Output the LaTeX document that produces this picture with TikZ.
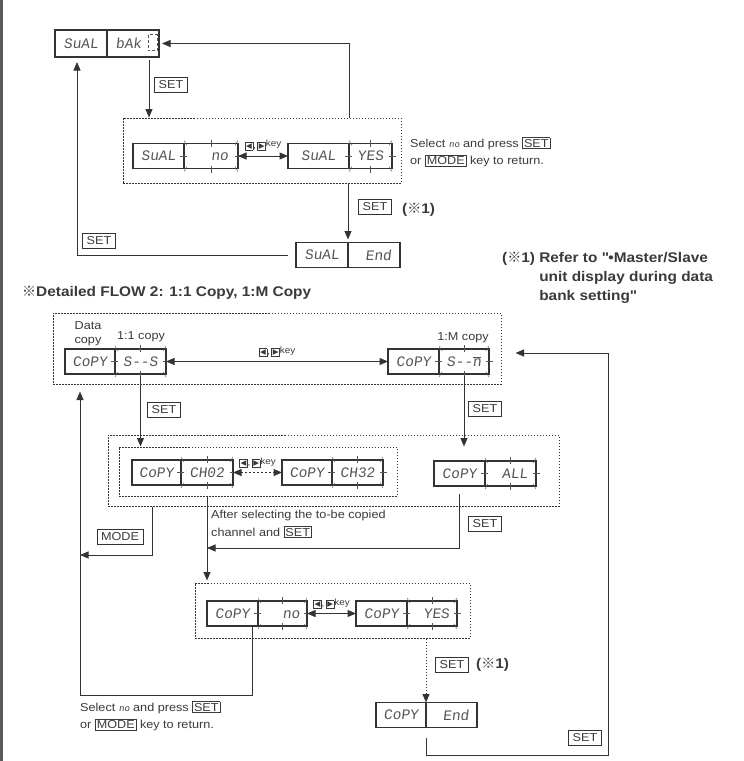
\documentclass[tikz,border=0pt]{standalone}
\usepackage{fontspec}
\setmainfont{Liberation Sans}[FakeStretch=1.1]
\newfontfamily\segfont{Liberation Mono}[FakeSlant=0.12]
\newfontfamily\symfont{DejaVu Sans}
\newfontfamily\cjkfont{Noto Sans CJK JP}
\usetikzlibrary{arrows.meta,positioning,calc,fit}
\definecolor{lcdline}{HTML}{333333}
\definecolor{segtext}{HTML}{555555}
\definecolor{txtgray}{HTML}{3A3A3A}
\definecolor{barcol}{HTML}{5A5A5A}
\newcommand{\refmark}{{\cjkfont ※}}
\newcommand{\kbox}[1]{{\fboxsep=1.2pt\fboxrule=0.6pt\fbox{#1}}}
\newcommand{\segno}{{\segfont\fontsize{9}{9}\selectfont no}}
\newcommand{\arrkeys}{{\fboxsep=0.8pt\fboxrule=0.6pt\fbox{\symfont\fontsize{7.5}{7.5}\selectfont ◀},\,\fbox{\symfont\fontsize{7.5}{7.5}\selectfont ▶}\raisebox{1.5pt}{key}}}
\newcommand{\blink}[1]{%
  \draw[tick] ([yshift=4pt]#1.north) -- ([yshift=-3pt]#1.north);
  \draw[tick] ([yshift=3pt]#1.south) -- ([yshift=-4pt]#1.south);
  \draw[tick] ([xshift=-4pt]#1.west) -- ([xshift=3pt]#1.west);
  \draw[tick] ([xshift=-3pt]#1.east) -- ([xshift=4pt]#1.east);
  \draw[tick] ([yshift=3pt]#1.north west) -- ([xshift=3pt,yshift=-2pt]#1.north west);
  \draw[tick] ([yshift=3pt]#1.north east) -- ([xshift=-3pt,yshift=-2pt]#1.north east);
  \draw[tick] ([yshift=-3pt]#1.south west) -- ([xshift=3pt,yshift=2pt]#1.south west);
  \draw[tick] ([yshift=-3pt]#1.south east) -- ([xshift=-3pt,yshift=2pt]#1.south east);
}

\begin{document}
\begin{tikzpicture}[
    x=1pt,y=-1pt,
    lcd/.style={draw=lcdline,line width=1.2pt,outer sep=0pt,inner sep=0pt,minimum width=51pt,minimum height=25pt,font=\segfont\fontsize{14.5}{14.5}\selectfont,text=segtext},
    grp/.style={draw=lcdline,dash pattern=on 1.5pt off 1.5pt,line width=1pt,inner sep=0pt},
    keybox/.style={draw=lcdline,line width=0.7pt,inner xsep=4pt,inner ysep=3.5pt,font=\fontsize{11.5}{12}\selectfont,text=txtgray},
    note/.style={align=left,anchor=north west,inner sep=0pt,font=\fontsize{11.5}{17.5}\selectfont,text=txtgray},
    lbl/.style={align=center,inner sep=0pt,font=\fontsize{11.5}{14}\selectfont,text=txtgray},
    head/.style={inner sep=0pt,font=\bfseries\fontsize{14}{19}\selectfont,text=txtgray},
    keylbl/.style={inner sep=0pt,font=\fontsize{9}{9}\selectfont,text=txtgray},
    arr/.style={-{Triangle[length=8.5pt,width=7pt]},line width=1pt,draw=lcdline},
    darr/.style={{Triangle[length=8.5pt,width=7pt]}-{Triangle[length=8.5pt,width=7pt]},line width=1pt,draw=lcdline},
    tick/.style={draw=segtext,line width=0.5pt}
  ]
    \useasboundingbox (0,0) rectangle (744,761);
    \fill[barcol] (0,0) rectangle (3,761);

    % bank save flow
    \node[lcd,minimum width=52pt,minimum height=27pt] (sval1) at (81,43.5) {SuAL};
    \node[lcd,minimum width=52pt,minimum height=27pt,right=0pt of sval1] (bak1) {bAk\phantom{0}};
    \draw[densely dashed,segtext,line width=0.6pt] ([xshift=-11pt,yshift=9pt]bak1.east) rectangle ([xshift=-2pt,yshift=-7pt]bak1.east);
    \node[lcd] (sval2) at (158.5,156) {SuAL};
    \node[lcd,minimum width=54pt,right=0pt of sval2] (no2) {\phantom{00}no};
    \node[lcd,minimum width=61pt] (sval3) at (318.5,156) {SuAL};
    \node[lcd,minimum width=43pt,right=0pt of sval3] (yes3) {YES};
    \node[lcd,minimum width=52pt] (sval4) at (322,255) {SuAL};
    \node[lcd,minimum width=52pt,right=0pt of sval4] (end4) {\phantom{0}End};
    \node[grp,fit={(123,118) (401,183)}] (g1) {};
    \blink{no2}
    \blink{yes3}

    \draw[darr] (no2.east) -- node[keylbl,above=5pt]{\arrkeys} (sval3.west);
    \draw[arr,shorten >=3pt] (g1.north -| yes3.west) |- (bak1.east);
    \draw[arr] ([xshift=16pt,yshift=-3pt]bak1.south) -- ([xshift=16pt]bak1.south |- g1.north);
    \node[keybox] (set1) at (171,84.5) {SET};
    \draw[arr,shorten >=3pt] (end4.north west |- g1.south) -- (end4.north west);
    \node[keybox] (set2) at (375,206.5) {SET};
    \node[head,anchor=west] (ref1) at (402,210) {(\refmark1)};
    \draw[arr,shorten >=5pt] ([xshift=-8pt]sval4.west) -| ([xshift=-4pt]sval1.south);
    \node[keybox] (set3) at (99,241) {SET};
    \node[note] (sel1) at (410,137) {Select \segno{} and press \kbox{SET}\\or \kbox{MODE} key to return.};

    \node[head,anchor=north west,align=left] (foot) at (502,249) {(\refmark1) \begin{tabular}[t]{@{}l@{}}Refer to \textquotedbl•Master/Slave\\unit display during data\\bank setting\textquotedbl\end{tabular}};
    \node[head,anchor=west] (title) at (22,293) {\refmark Detailed FLOW 2: 1:1 Copy, 1:M Copy};

    % copy flow
    \node[lcd,minimum width=50pt] (copy1) at (90,361.5) {CoPY};
    \node[lcd,right=0pt of copy1] (ss) {S--S};
    \node[lcd] (copy2) at (413.5,361.5) {CoPY};
    \node[lcd,minimum width=50pt,right=0pt of copy2] (sm) {S--\makebox[0pt][l]{\raisebox{9pt}{\rule{8pt}{0.7pt}}}n};
    \node[grp,fit={(53,313) (501,384)}] (g2) {};
    \node[lbl] (datacopy) at (88,334) {Data\\copy};
    \node[lbl] (lab11) at (141,337) {1:1 copy};
    \node[lbl] (lab1m) at (463,338) {1:M copy};
    \blink{ss}
    \blink{sm}
    \draw[darr] (ss.east) -- node[keylbl,above=4pt]{\arrkeys} (copy2.west);

    \node[lcd,minimum width=49pt] (copy3) at (156.5,472.5) {CoPY};
    \node[lcd,minimum width=52pt,right=0pt of copy3] (ch02) {CH02};
    \node[lcd,minimum width=50pt] (copy4) at (307,472.5) {CoPY};
    \node[lcd,right=0pt of copy4] (ch32) {CH32};
    \node[lcd] (copy5) at (459.5,473.5) {CoPY};
    \node[lcd,right=0pt of copy5] (all5) {\phantom{0}ALL};
    \node[grp,fit={(119,447) (397,496)}] (g4) {};
    \node[grp,fit={(108,435) (559,506)}] (g3) {};
    \blink{ch02}
    \blink{ch32}
    \blink{all5}
    \draw[darr,dash pattern=on 2pt off 2pt] (ch02.east) -- node[keylbl,above=4pt]{\arrkeys} (copy4.west);

    \draw[arr] ([yshift=-2pt]ss.south) -- (ss.south |- g4.north);
    \node[keybox] (set4) at (164,410) {SET};
    \draw[arr] ([yshift=-2pt]sm.south) -- (sm.south |- g4.north);
    \node[keybox] (set5) at (485,409) {SET};

    \node[lcd] (copy6) at (232.5,613.5) {CoPY};
    \node[lcd,minimum width=49pt,right=0pt of copy6] (cno) {\phantom{00}no};
    \node[lcd] (copy7) at (381.5,613.5) {CoPY};
    \node[lcd,minimum width=50pt,right=0pt of copy7] (cyes) {\phantom{0}YES};
    \node[grp,fit={(195,583) (470,638)}] (g5) {};
    \blink{cno}
    \blink{cyes}
    \draw[darr] (cno.east) -- node[keylbl,above=4pt]{\arrkeys} (copy7.west);

    \node[lcd,minimum width=50pt] (copy8) at (401,715) {CoPY};
    \node[lcd,right=0pt of copy8] (cend) {\phantom{0}End};

    \coordinate (join) at ([yshift=-63pt]ch02.south);
    \coordinate (modeend) at (80,555);
    \coordinate (loopc) at (608,755);

    \draw[arr,shorten >=2pt] (ch02.south |- g4.south) -- (ch02.south |- g5.north);
    \draw[arr] ([yshift=-8pt]copy5.south) |- (join);
    \node[keybox] (set6) at (485,524) {SET};
    \node[note] (after) at (211,510) {After selecting the to-be copied\\channel and \kbox{SET}};
    \draw[arr] ([xshift=-4pt]copy3.south |- g3.south) |- (modeend);
    \node[keybox] (mode1) at (120,537) {MODE};
    \draw[arr,shorten >=7pt] ([xshift=-6pt]cno.south west) -- ++(0,69) -| ([xshift=-10pt]copy1.south |- g2.south);
    \node[note] (sel2) at (80,701) {Select \segno{} and press \kbox{SET}\\or \kbox{MODE} key to return.};
    \draw[arr,dash pattern=on 1.5pt off 1.5pt] (cend.north west |- g5.south) -- (cend.north west);
    \node[keybox] (set7) at (452,665) {SET};
    \node[head,anchor=west] (ref2) at (476,665) {(\refmark1)};
    \draw[arr] ([yshift=-10pt]cend.south west) |- (loopc) |- ([xshift=14pt,yshift=-4.5pt]g2.east);
    \node[keybox] (set8) at (585,738) {SET};
  \end{tikzpicture}
\end{document}
